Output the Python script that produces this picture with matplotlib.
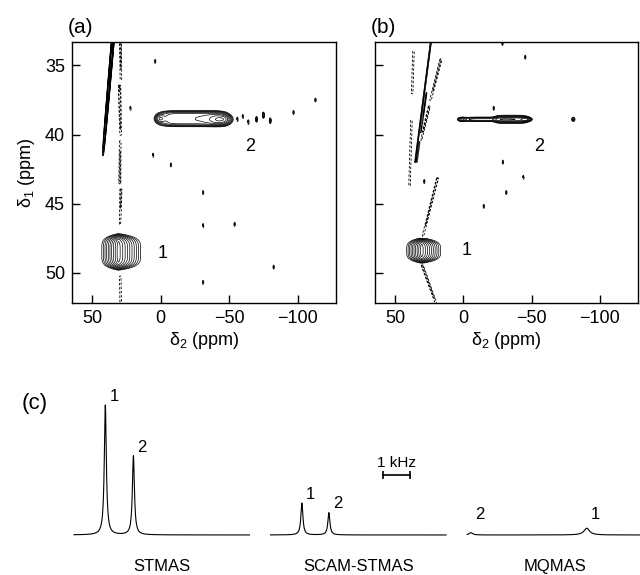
import numpy as np
import matplotlib
matplotlib.use('Agg')
from matplotlib import pyplot as plt

plt.rcParams['font.family'] = ['Liberation Sans', 'DejaVu Sans']
plt.rcParams['mathtext.default'] = 'regular'
plt.rcParams['font.size'] = 12

# ---------------- 2D spectra: peaks (ppm) ----------------
# panel (a) STMAS
a_peak_d2 = [30.8, -23.2, 0.5, -45.0]
a_peak_d1 = [48.5, 38.85, 38.85, 38.9]
a_peak_w2hi = [4.2, 22.5, 3.0, 8.0]    # half width towards larger delta2
a_peak_w2lo = [5.6, 22.5, 3.0, 5.0]    # half width towards smaller delta2
a_peak_w1 = [1.05, 0.49, 0.25, 0.3]
a_peak_p2 = [1.1, 6, 2, 2]
a_peak_p1 = [5, 4, 2, 2]
a_peak_h = [1.0, 0.3, 0.25, 0.5]

# ridges (diagonal artefact and t1 noise): start / end points, amplitude at each end, width (px)
a_ridge_d2 = [(34.3, 42.1), (29.4, 29.0), (30.0, 29.2), (29.5, 29.8), (29.0, 29.6), (29.5, 29.0)]
a_ridge_d1 = [(32.5, 41.5), (32.5, 36.0), (36.5, 40.0), (40.5, 43.5), (44.0, 46.5), (50.3, 53.0)]
a_ridge_amp = [(1.0, 0.06), (-0.06, -0.05), (-0.07, -0.05), (-0.05, -0.06), (-0.06, -0.045),
               (-0.05, -0.05)]
a_ridge_w = [0.9, 1.6, 1.6, 1.6, 1.6, 1.6]

# small isolated specks
a_blip_d2 = [4.0, 22.0, 5.5, -7.5, -31.0, -31.0, -54.0, -82.5, -31.0, -97.0, -113.0,
             -56.0, -60.0, -64.0, -70.0, -75.0, -80.0]
a_blip_d1 = [34.7, 38.1, 41.5, 42.2, 44.2, 46.6, 46.5, 49.6, 50.7, 38.4, 37.5,
             38.9, 38.7, 39.1, 38.9, 38.6, 39.0]
a_blip_h = [0.07, -0.07, -0.07, 0.07, 0.07, -0.07, 0.07, 0.07, 0.07, 0.07, 0.07,
            -0.08, -0.07, -0.08, 0.12, 0.15, 0.12]

# panel (b) SCAM-STMAS
b_peak_d2 = [30.5, -22.0, -35.0, -46.0, 1.0, -80.6]
b_peak_d1 = [48.4, 38.9, 38.9, 38.9, 38.9, 38.9]
b_peak_w2hi = [3.8, 22.0, 11.5, 3.0, 2.5, 1.2]
b_peak_w2lo = [4.8, 22.0, 11.5, 3.0, 2.5, 1.2]
b_peak_w1 = [0.69, 0.13, 0.22, 0.12, 0.12, 0.15]
b_peak_p2 = [1.1, 6, 6, 2, 2, 2]
b_peak_p1 = [4, 2, 2, 2, 2, 2]
b_peak_h = [1.0, 0.2, 0.25, 0.4, 0.2, 0.12]

b_ridge_d2 = [(22.7, 35.3), (27.0, 34.0), (16.5, 24.0), (25.0, 31.0), (36.5, 37.5),
              (38.0, 39.5), (19.0, 30.0), (30.0, 19.0)]
b_ridge_d1 = [(32.5, 42.0), (37.0, 42.0), (34.6, 37.5), (38.0, 40.4), (34.0, 37.0),
              (39.0, 44.0), (43.2, 47.5), (49.5, 52.5)]
b_ridge_amp = [(0.075, 0.06), (0.06, 0.05), (-0.06, -0.05), (-0.06, -0.05), (-0.05, -0.05),
               (-0.05, -0.05), (-0.06, -0.05), (-0.06, -0.05)]
b_ridge_w = [0.8, 0.8, 1.6, 1.6, 1.6, 1.6, 1.6, 1.6]

b_blip_d2 = [-28.7, -45.4, -22.3, -29.0, -44.0, -31.5, -15.0, 28.6, 39.6]
b_blip_d1 = [33.4, 34.4, 38.1, 42.0, 43.1, 44.2, 45.2, 43.4, 44.0]
b_blip_h = [0.07, 0.07, 0.07, 0.07, -0.07, 0.07, 0.07, 0.07, 0.07]

# ---------------- 1D projections (c): peak positions in kHz from spectrum start ----------------
spec_names = ['STMAS', 'SCAM-STMAS', 'MQMAS']
spec_pos = [[1.16, 2.20], [1.16, 2.16], [0.14, 4.43]]
spec_height = [[100, 60.8], [24.6, 17.2], [1.8, 5.2]]
spec_fwhm = [[0.09, 0.09], [0.09, 0.09], [0.15, 0.25]]
spec_labels = [['1', '2'], ['1', '2'], ['2', '1']]

SX, SY = 1.373, 13.8   # px per ppm, used to measure ridge widths on screen


def build_field(D2, D1, pd2, pd1, w2hi, w2lo, w1, p2, p1, h,
                rd2, rd1, ramp, rw, bd2, bd1, bh):
    z = np.zeros_like(D2)
    for i in range(len(pd2)):
        w2 = np.where(D2 > pd2[i], w2hi[i], w2lo[i])
        z += h[i] * np.exp(-np.abs((D2 - pd2[i]) / w2) ** p2[i]) \
            * np.exp(-np.abs((D1 - pd1[i]) / w1[i]) ** p1[i])
    X, Y = D2 * SX, D1 * SY
    for (x0, x1), (y0, y1), (a0, a1), wid in zip(rd2, rd1, ramp, rw):
        x0, x1, y0, y1 = x0 * SX, x1 * SX, y0 * SY, y1 * SY
        dx, dy = x1 - x0, y1 - y0
        t = np.clip(((X - x0) * dx + (Y - y0) * dy) / (dx * dx + dy * dy), 0, 1)
        dist = np.hypot(X - (x0 + t * dx), Y - (y0 + t * dy))
        amp = a0 + (a1 - a0) * t
        z += amp * np.exp(-(dist / wid) ** 2)
    for x, y, a in zip(bd2, bd1, bh):
        z += a * np.exp(-((D2 - x) / 0.7) ** 2 - ((D1 - y) / 0.2) ** 2)
    return z


d2 = np.linspace(66, -130, 1300)
d1 = np.linspace(32.5, 53, 800)
D2, D1 = np.meshgrid(d2, d1)

za = build_field(D2, D1, a_peak_d2, a_peak_d1, a_peak_w2hi, a_peak_w2lo, a_peak_w1,
                 a_peak_p2, a_peak_p1, a_peak_h, a_ridge_d2, a_ridge_d1, a_ridge_amp,
                 a_ridge_w, a_blip_d2, a_blip_d1, a_blip_h)
zb = build_field(D2, D1, b_peak_d2, b_peak_d1, b_peak_w2hi, b_peak_w2lo, b_peak_w1,
                 b_peak_p2, b_peak_p1, b_peak_h, b_ridge_d2, b_ridge_d1, b_ridge_amp,
                 b_ridge_w, b_blip_d2, b_blip_d1, b_blip_h)

pos_levels = 0.04 * 1.4 ** np.arange(10)
neg_levels = -0.04 * 1.3 ** np.arange(3)[::-1]

fig = plt.figure(figsize=(6.4, 5.75), dpi=100)
ax_a = fig.add_axes([72 / 640, 1 - 303 / 575, 264 / 640, 261 / 575])
ax_b = fig.add_axes([375 / 640, 1 - 303 / 575, 263 / 640, 261 / 575])

for ax, z, tag in [(ax_a, za, '(a)'), (ax_b, zb, '(b)')]:
    ax.contour(D2, D1, z, levels=pos_levels, colors='k', linewidths=0.5)
    cn = ax.contour(D2, D1, z, levels=neg_levels, colors='k', linewidths=0.6,
                    linestyles='dashed')
    cn.set_dashes([(0, (3, 2))])
    ax.set_xlim(64.7, -128)
    ax.set_ylim(52.2, 33.3)
    ax.set_xticks([50, 0, -50, -100])
    ax.set_xticklabels(['50', '0', '\u221250', '\u2212100'])
    ax.set_yticks([35, 40, 45, 50])
    ax.tick_params(direction='in', length=6, width=1, labelsize=13, pad=5)
    ax.set_xlabel('\u03b4$_2$ (ppm)', fontsize=13, labelpad=2)
    for s in ax.spines.values():
        s.set_linewidth(1)
    ax.text(-0.015, 1.02, tag, transform=ax.transAxes, fontsize=15, ha='left', va='bottom')

ax_a.set_ylabel('\u03b4$_1$ (ppm)', fontsize=13, labelpad=6)
ax_b.set_yticklabels([])

ax_a.text(-1.7, 48.6, '1', fontsize=13, ha='center', va='center')
ax_a.text(-65, 40.9, '2', fontsize=13, ha='center', va='center')
ax_b.text(-2.4, 48.4, '1', fontsize=13, ha='center', va='center')
ax_b.text(-55.6, 40.9, '2', fontsize=13, ha='center', va='center')

# ---------------- panel (c) ----------------
KHZ = 27.0                     # px per kHz
ax_c = fig.add_axes([0, 0, 1, 0.34])
ax_c.set_xlim(0, 640 / KHZ)
ax_c.set_ylim(-30.8, 119.6)
ax_c.axis('off')

span = 6.5
gap = 0.78
start0 = 74 / KHZ
for i, name in enumerate(spec_names):
    x0 = start0 + i * (span + gap)
    xs = np.linspace(0, span, 1600)
    ys = np.zeros_like(xs)
    for p, hgt, fw in zip(spec_pos[i], spec_height[i], spec_fwhm[i]):
        g = fw / 2
        ys += hgt * g ** 2 / ((xs - p) ** 2 + g ** 2)
    ax_c.plot(x0 + xs, ys, color='k', lw=0.8)
    for p, hgt, lab in zip(spec_pos[i], spec_height[i], spec_labels[i]):
        ax_c.annotate(lab, (x0 + p, max(hgt, 9)), xytext=(3, 1), textcoords='offset points',
                      ha='left', va='bottom', fontsize=12)
    ax_c.text(x0 + span / 2, -24, name, ha='center', va='center', fontsize=12)

bar_x = 383 / KHZ
ax_c.plot([bar_x, bar_x + 1], [46, 46], color='k', lw=1.2, marker='|', markersize=6,
          markeredgewidth=1.2)
ax_c.text(bar_x + 0.5, 50, '1 kHz', ha='center', va='bottom', fontsize=11)
fig.text(22 / 640, 1 - 403 / 575, '(c)', fontsize=16, ha='left', va='center')

fig.savefig('out.png', dpi=100)
